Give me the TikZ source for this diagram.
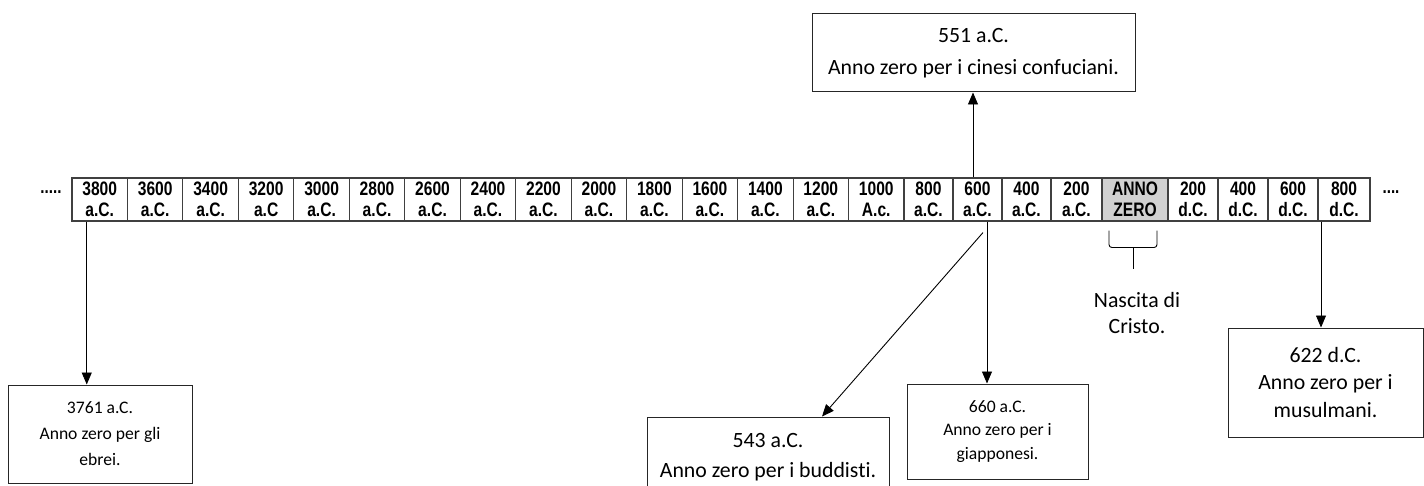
\documentclass[tikz,border=0pt]{standalone}
\usepackage{fontspec}
\setmainfont{Carlito}[Ligatures=NoCommon]
\newfontfamily\cellfont[FakeStretch=0.8]{Liberation Sans}
\usetikzlibrary{arrows.meta}

\tikzset{
  cella/.style={draw=black!75, line width=1.1pt, inner sep=0pt, minimum height=43,
    align=center, font=\cellfont\bfseries\fontsize{19.5}{20.5}\selectfont},
  nota/.style={draw=black!85, line width=1pt, inner sep=0pt, align=center},
  grande/.style={font=\fontsize{21.8}{#1}\selectfont},
  piccolo/.style={font=\fontsize{17.6}{#1}\selectfont},
  freccia/.style={-{Triangle[width=10pt,length=12pt]}, line width=0.9pt},
}

\begin{document}
\begin{tikzpicture}[x=1pt,y=-1pt]
  \useasboundingbox (0,0) rectangle (1424,486);

  % linea del tempo
  \foreach \l/\r/\t/\u/\f [count=\i] in {72/127.5/3800/a.C./white, 127.5/182.9/3600/a.C./white,
      182.9/238.4/3400/a.C./white, 238.4/293.9/3200/a.C/white, 293.9/349.3/3000/a.C./white,
      349.3/404.8/2800/a.C./white, 404.8/460.3/2600/a.C./white, 460.3/515.7/2400/a.C./white,
      515.7/571.2/2200/a.C./white, 571.2/626.7/2000/a.C./white, 626.7/682.1/1800/a.C./white,
      682.1/737.6/1600/a.C./white, 737.6/793.1/1400/a.C./white, 793.1/848.5/1200/a.C./white,
      848.5/904/1000/A.c./white, 904/953/800/a.C./white, 953/1002/600/a.C./white,
      1002/1051/400/a.C./white, 1051/1102/200/a.C./white, 1102/1168/ANNO/ZERO/black!18,
      1168/1218/200/d.C./white, 1218/1268/400/d.C./white, 1268/1318/600/d.C./white,
      1318/1370/800/d.C./white}
    \node[cella, fill=\f, minimum width={\r-\l}] (c\i) at ({(\l+\r)/2},199.5) {\t\\\u};

  \node[font=\cellfont\bfseries\fontsize{19}{20}\selectfont, inner sep=0pt] (puntisx) at (51,192) {.....};
  \node[font=\cellfont\bfseries\fontsize{19}{20}\selectfont, inner sep=0pt] (puntidx) at (1391,192) {....};

  % riquadri
  \node[nota, grande=32, minimum width=323, minimum height=78] (cinesi) at (973.5,53)
    {551 a.C.\\Anno zero per i cinesi confuciani.};
  \node[nota, piccolo=26, minimum width=184, minimum height=98] (ebrei) at (100,434)
    {3761 a.C.\\Anno zero per gli\\ebrei.};
  \node[nota, grande=30, minimum width=242, minimum height=80] (buddisti) at (768,457)
    {543 a.C.\\Anno zero per i buddisti.};
  \node[nota, piccolo=23.5, minimum width=181, minimum height=95] (giapponesi) at (997.5,431.5)
    {660 a.C.\\Anno zero per i\\giapponesi.};
  \node[nota, grande=27.5, minimum width=195, minimum height=109] (musulmani) at (1325.5,382.5)
    {622 d.C.\\Anno zero per i\\musulmani.};
  \node[grande=26, align=center, inner sep=0pt] (nascita) at (1137,313) {Nascita di\\Cristo.};

  % frecce
  \coordinate (a1) at ([xshift=-13pt]c1.south);
  \coordinate (a17) at ([xshift=-4.5pt]c17.north);
  \coordinate (b17) at ([xshift=5.5pt,yshift=-11pt]c17.south);
  \coordinate (g17) at ([xshift=9.5pt]c17.south);
  \coordinate (m24) at ([xshift=-23pt]c24.south);
  \draw[freccia] (a1) -- (a1 |- ebrei.north);
  \draw[freccia] (a17) -- (a17 |- cinesi.south);
  \draw[freccia] (b17) -- ([xshift=54pt]buddisti.north);
  \draw[freccia] (g17) -- (g17 |- giapponesi.north);
  \draw[freccia] (m24) -- (m24 |- musulmani.north);

  % parentesi sotto ANNO ZERO
  \draw[line width=0.9pt, rounded corners=3pt] ([xshift=-26pt,yshift=-9pt]c20.south) -- ++(0,17)
    -- ++(48,0) -- ++(0,-17);
  \draw[line width=0.9pt] ([xshift=-2pt,yshift=-26pt]c20.south) -- ++(0,21);
\end{tikzpicture}
\end{document}
